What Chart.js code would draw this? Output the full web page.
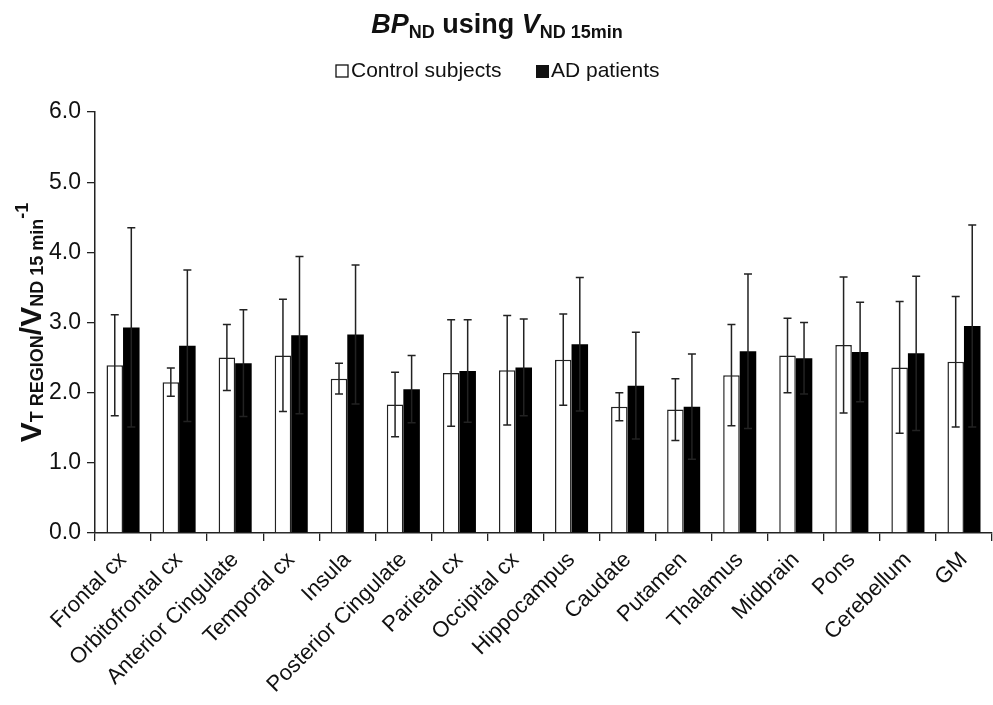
<!DOCTYPE html>
<html>
<head>
<meta charset="utf-8">
<script src="https://cdn.jsdelivr.net/npm/chart.js@4.4.1/dist/chart.umd.min.js"></script>
<style>
  html, body { margin: 0; padding: 0; background: #fff; }
  #wrap { width: 993px; height: 705px; }
</style>
</head>
<body>
<div id="wrap"><canvas id="chart"></canvas></div>
<script>
const regions = ['Frontal cx', 'Orbitofrontal cx', 'Anterior Cingulate', 'Temporal cx', 'Insula',
  'Posterior Cingulate', 'Parietal cx', 'Occipital cx', 'Hippocampus', 'Caudate', 'Putamen',
  'Thalamus', 'Midbrain', 'Pons', 'Cerebellum', 'GM'];
const controlMean = [2.39, 2.15, 2.50, 2.53, 2.20, 1.83, 2.28, 2.32, 2.47, 1.80, 1.76, 2.25, 2.53, 2.68, 2.36, 2.44];
const controlSD   = [0.72, 0.20, 0.47, 0.80, 0.22, 0.46, 0.76, 0.78, 0.65, 0.20, 0.44, 0.72, 0.53, 0.97, 0.94, 0.93];
const adMean      = [2.93, 2.67, 2.42, 2.82, 2.83, 2.05, 2.31, 2.36, 2.69, 2.10, 1.80, 2.59, 2.49, 2.58, 2.56, 2.95];
const adSD        = [1.42, 1.08, 0.76, 1.12, 0.99, 0.48, 0.73, 0.69, 0.95, 0.76, 0.75, 1.10, 0.51, 0.71, 1.10, 1.44];
const yTicks = [0, 1, 2, 3, 4, 5, 6];

const FONT = 'Liberation Sans, Arial, sans-serif';
const INK = '#222';

// draws a run of text pieces with sub/superscripts, centred on x
function drawRich(ctx, parts, x, y) {
  let total = 0;
  parts.forEach(p => { ctx.font = p.f; p.w = ctx.measureText(p.t).width; total += p.w; });
  let cx = x - total / 2;
  ctx.textBaseline = 'alphabetic';
  ctx.textAlign = 'left';
  parts.forEach(p => {
    ctx.font = p.f;
    ctx.fillText(p.t, cx, y + (p.dy || 0));
    cx += p.w;
  });
}

const errorBars = {
  id: 'errorBars',
  afterDatasetsDraw(chart) {
    const ctx = chart.ctx;
    const y = chart.scales.y;
    const sds = [controlSD, adSD];
    ctx.save();
    ctx.strokeStyle = INK;
    ctx.lineWidth = 1.5;
    chart.data.datasets.forEach((ds, i) => {
      chart.getDatasetMeta(i).data.forEach((bar, j) => {
        const m = ds.data[j];
        const top = y.getPixelForValue(m + sds[i][j]);
        const bot = y.getPixelForValue(m - sds[i][j]);
        ctx.beginPath();
        ctx.moveTo(bar.x, top); ctx.lineTo(bar.x, bot);
        ctx.moveTo(bar.x - 4, top); ctx.lineTo(bar.x + 4, top);
        ctx.moveTo(bar.x - 4, bot); ctx.lineTo(bar.x + 4, bot);
        ctx.stroke();
      });
    });
    ctx.restore();
  }
};

const decorations = {
  id: 'decorations',
  afterDraw(chart) {
    const ctx = chart.ctx;
    const area = chart.chartArea;
    ctx.save();
    ctx.fillStyle = '#111';
    // title
    drawRich(ctx, [
      { t: 'BP', f: `italic bold 27px ${FONT}` },
      { t: 'ND', f: `bold 18px ${FONT}`, dy: 5 },
      { t: ' using ', f: `bold 27px ${FONT}` },
      { t: 'V', f: `italic bold 27px ${FONT}` },
      { t: 'ND 15min', f: `bold 18px ${FONT}`, dy: 5 }
    ], 497, 33);

    // legend
    ctx.font = `21px ${FONT}`;
    ctx.textBaseline = 'middle';
    ctx.textAlign = 'left';
    const ly = 71;
    ctx.lineWidth = 1.3;
    ctx.strokeStyle = '#111';
    ctx.fillStyle = '#fff';
    ctx.fillRect(336, ly - 6, 12, 12);
    ctx.strokeRect(336, ly - 6, 12, 12);
    ctx.fillStyle = '#111';
    ctx.fillText('Control subjects', 351, ly);
    ctx.fillRect(536, ly - 6, 13, 13);
    ctx.fillText('AD patients', 551, ly);

    // y axis title, rotated
    ctx.translate(41, (area.top + area.bottom) / 2);
    ctx.rotate(-Math.PI / 2);
    drawRich(ctx, [
      { t: 'V', f: `bold 30px ${FONT}` },
      { t: 'T REGION', f: `bold 18px ${FONT}`, dy: 2 },
      { t: '/V', f: `bold 30px ${FONT}` },
      { t: 'ND 15 min', f: `bold 18px ${FONT}`, dy: 2 },
      { t: '-1', f: `bold 18px ${FONT}`, dy: -13 }
    ], 0, 0);
    ctx.restore();
  }
};

new Chart(document.getElementById('chart'), {
  type: 'bar',
  data: {
    labels: regions,
    datasets: [
      {
        label: 'Control subjects',
        data: controlMean,
        backgroundColor: '#fff',
        borderColor: INK,
        borderWidth: 1.5
      },
      {
        label: 'AD patients',
        data: adMean,
        backgroundColor: '#000',
        borderColor: '#000',
        borderWidth: 0
      }
    ]
  },
  options: {
    responsive: true,
    maintainAspectRatio: false,
    animation: false,
    layout: { padding: { top: 112, right: 1, left: 0, bottom: 0 } },
    datasets: { bar: { categoryPercentage: 0.59, barPercentage: 1 } },
    plugins: {
      legend: { display: false },
      tooltip: { enabled: false }
    },
    scales: {
      x: {
        grid: { display: true, drawOnChartArea: false, offset: true, color: INK, lineWidth: 1.3, tickLength: 8 },
        border: { color: INK, width: 1.5 },
        ticks: {
          color: '#111',
          font: { family: FONT, size: 22 },
          minRotation: 45,
          maxRotation: 45,
          autoSkip: false,
          padding: 6
        },
        afterFit(scale) { scale.height = 172; }
      },
      y: {
        min: 0,
        max: 6,
        afterBuildTicks(scale) { scale.ticks = yTicks.map(v => ({ value: v })); },
        grid: { display: true, drawOnChartArea: false, color: INK, lineWidth: 1.3, tickLength: 8 },
        border: { color: INK, width: 1.5 },
        ticks: {
          color: '#111',
          font: { family: FONT, size: 23 },
          padding: 6,
          callback: v => v.toFixed(1)
        },
        afterFit(scale) { scale.width = 95; }
      }
    }
  },
  plugins: [errorBars, decorations]
});
</script>
</body>
</html>
